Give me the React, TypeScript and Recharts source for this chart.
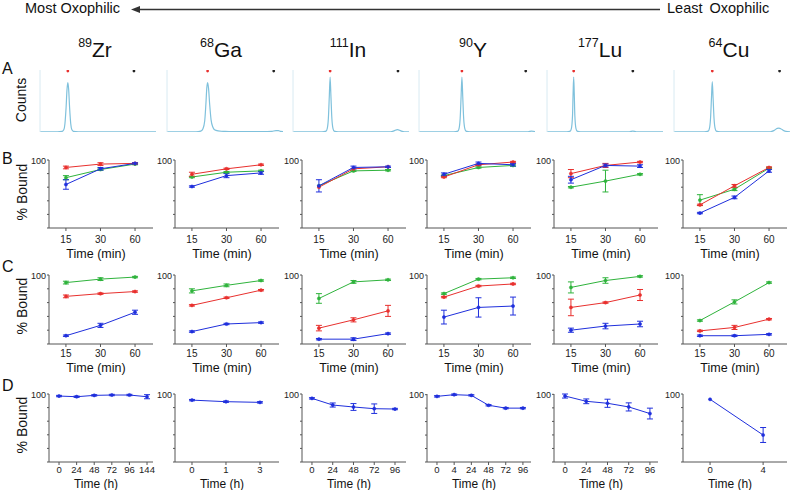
import React from 'react'
import { LineChart, Line, XAxis, YAxis, ErrorBar, ReferenceDot } from 'recharts'

const FONT = '"Liberation Sans", Arial, Helvetica, sans-serif'

const massNumbers = ['89', '68', '111', '90', '177', '64']
const elements = ['Zr', 'Ga', 'In', 'Y', 'Lu', 'Cu']

// Row A: radio-HPLC traces, [x (% of run), counts]
const traceZr = [[0, 0.5], [15, 0.5], [19, 1], [20.5, 4], [21.5, 15], [22.5, 45], [23.3, 78], [24, 90], [24.7, 78], [25.5, 45], [26.5, 15], [27.5, 4], [29, 1], [33, 0.5], [100, 0.5]]
const traceGa = [[0, 0.5], [25, 0.5], [29, 1.5], [31, 6], [32.5, 20], [33.5, 50], [34.3, 80], [35, 90], [35.8, 80], [36.8, 50], [38, 22], [39.5, 9], [41, 4], [44, 2], [50, 1], [70, 0.7], [90, 1], [94, 2.5], [96, 2.5], [98, 1], [100, 0.8]]
const traceIn = [[0, 0.5], [25, 0.5], [28.5, 1.5], [29.5, 6], [30.5, 25], [31.3, 65], [32, 100], [32.7, 65], [33.5, 25], [34.5, 6], [35.5, 1.5], [39, 0.5], [84, 0.5], [87, 2], [90, 4.5], [93, 2], [96, 0.5], [100, 0.5]]
const traceY = [[0, 0.5], [30, 0.5], [33.5, 1.5], [34.5, 6], [35.5, 25], [36.3, 65], [37, 100], [37.7, 65], [38.5, 25], [39.5, 6], [40.5, 1.5], [44, 0.5], [94, 0.5], [97, 1.5], [100, 0.8]]
const traceLu = [[0, 0.5], [17, 0.5], [20, 1.5], [21, 6], [22, 30], [22.5, 70], [23, 100], [23.5, 70], [24, 30], [25, 6], [26, 1.5], [29, 0.5], [71, 0.5], [74, 1.5], [77, 0.5], [100, 0.5]]
const traceCu = [[0, 0.5], [26, 0.5], [29.5, 1.5], [30.5, 6], [31.5, 25], [32.3, 62], [33, 92], [33.7, 62], [34.5, 25], [35.5, 6], [36.5, 1.5], [40, 0.5], [83, 0.5], [86, 2.5], [89, 6.5], [90.5, 7], [92, 6], [95, 2], [98, 0.7], [100, 0.5]]
const traces = [traceZr, traceGa, traceIn, traceY, traceLu, traceCu]
const freePeakX = [24, 35, 32, 37, 23, 33]
const boundPeakX = [81, 92, 90.5, 92, 74, 91]

// Row B: % bound at 15, 30, 60 min (per isotope)
const timeMin = ['15', '30', '60']
const bRed = [[89, 94, 95], [79, 87, 93], [60, 87, 90], [75, 93, 97], [80, 92, 97], [34, 62, 89]]
const bRedErr = [[2, 2, 1], [3, 1, 1], [0, 0, 0], [1, 1, 1], [6, 3, 1], [1, 2, 1]]
const bGreen = [[74, 86, 94], [75, 82, 84], [62, 84, 85], [77, 89, 92], [60, 69, 79], [41, 57, 88]]
const bGreenErr = [[3, 1, 1], [1, 1, 1], [0, 1, 1], [1, 1, 1], [1, 16, 1], [8, 2, 1]]
const bBlue = [[64, 87, 95], [61, 77, 81], [62, 89, 90], [79, 95, 93], [71, 92, 91], [22, 45, 84]]
const bBlueErr = [[7, 2, 1], [1, 3, 2], [9, 2, 1], [2, 2, 2], [5, 2, 2], [1, 2, 2]]

// Row C
const cGreen = [[89, 94, 97], [77, 85, 92], [66, 90, 93], [73, 94, 96], [82, 92, 98], [34, 61, 89]]
const cGreenErr = [[2, 2, 1], [3, 2, 1], [7, 2, 1], [1, 1, 1], [8, 4, 1], [1, 3, 1]]
const cRed = [[69, 73, 76], [56, 67, 78], [23, 35, 48], [68, 84, 87], [53, 60, 71], [19, 24, 36]]
const cRedErr = [[2, 1, 1], [1, 1, 1], [4, 3, 8], [1, 1, 1], [12, 1, 8], [1, 3, 1]]
const cBlue = [[12, 27, 46], [18, 29, 31], [7, 7, 15], [39, 53, 55], [20, 26, 29], [12, 12, 14]]
const cBlueErr = [[1, 3, 3], [1, 1, 1], [1, 2, 1], [10, 14, 13], [3, 4, 4], [1, 1, 1]]

// Row D: serum stability, time in h
const dTimes = [['0', '24', '48', '72', '96', '144'], ['0', '1', '3'], ['0', '24', '48', '72', '96'], ['0', '4', '24', '48', '72', '96'], ['0', '24', '48', '72', '96'], ['0', '4']]
const dBound = [[97, 96, 98, 98.5, 98.5, 96], [91, 88.7, 87.7], [93.6, 83.8, 80.9, 78.4, 77.9], [97.5, 100, 99, 84.3, 80, 80], [97.5, 89.7, 86.8, 81.4, 71.6], [92.2, 39.7]]
const dErr = [[1, 1, 1, 1, 1, 3], [1, 1, 1], [1, 3, 5, 7, 1], [1, 1, 1, 1, 1, 1], [3, 3.5, 6, 6, 8], [0, 11]]

const RED = '#e8302e'
const GREEN = '#2fb33c'
const BLUE = '#1f2fdc'
const AXIS = '#555'

const axisX = [49, 175, 302, 427, 554, 683]
const traceLeft = [39, 166, 292, 418, 546, 673]
const minDomain: [number, number] = [-0.49, 2.52]
const hourDomains: [number, number][] = [[-0.57, 5.34], [-0.5, 2.56], [-0.48, 4.53], [-0.58, 5.47], [-0.52, 4.38], [-0.51, 1.45]]

type Series = { key: string; color: string }

function TracePanel({ i }: { i: number }) {
  const data = traces[i].map(([x, y]) => ({ x, y }))
  return (
    <div style={{ position: 'absolute', left: traceLeft[i], top: 70 }}>
      <LineChart width={117} height={62} data={data} margin={{ top: 0, right: 0, left: 0, bottom: 0 }}>
        <XAxis dataKey="x" type="number" domain={[0, 100]} hide />
        <YAxis width={1} domain={[0, 113]} tick={false} tickLine={false} axisLine={{ stroke: '#d8eaf2' }} />
        <Line dataKey="y" type="monotone" stroke="#7fc1dc" strokeWidth={1.2} dot={false} isAnimationActive={false} />
        <ReferenceDot x={freePeakX[i]} y={111} r={1.4} fill={RED} stroke="none" />
        <ReferenceDot x={boundPeakX[i]} y={111} r={1.4} fill="#222" stroke="none" />
      </LineChart>
    </div>
  )
}

function BoundPanel({ left, top, plotH, data, series, labels, domain, title, tickGap, titleOffset, tickFont = 10, titleFont = 12.5 }: {
  left: number; top: number; plotH: number; data: any[]; series: Series[]; labels: string[]; domain: [number, number]
  title: string; tickGap: number; titleOffset: number; tickFont?: number; titleFont?: number
}) {
  const yW = 30
  const mTop = 4
  const xH = 36
  return (
    <div style={{ position: 'absolute', left: left - yW, top: top - mTop }}>
      <LineChart width={yW + 104 + 4} height={mTop + plotH + xH} data={data} margin={{ top: mTop, right: 4, left: 0, bottom: 0 }}>
        <XAxis
          dataKey="x" type="number" domain={domain} ticks={labels.map((_, k) => k)}
          tickFormatter={(k) => labels[k]} height={xH} tickSize={3} tickMargin={tickGap}
          axisLine={{ stroke: AXIS }} tickLine={{ stroke: AXIS }}
          tick={{ fontSize: tickFont, fill: '#222', fontFamily: FONT }}
          label={{ value: title, position: 'insideBottom', offset: titleOffset, dx: -5, fontSize: titleFont, fill: '#111', fontFamily: FONT }}
        />
        <YAxis
          width={yW} domain={[0, 100]} ticks={[0, 20, 40, 60, 80, 100]} tickSize={2} tickMargin={1}
          tickFormatter={(v) => (v === 100 ? '100' : '')} axisLine={{ stroke: AXIS }} tickLine={{ stroke: AXIS }}
          tick={{ fontSize: 9, fill: '#222', fontFamily: FONT }}
        />
        {series.map((s) => (
          <Line key={s.key} dataKey={s.key} stroke={s.color} strokeWidth={1} type="linear"
            dot={{ r: 1.6, fill: s.color, stroke: s.color, strokeWidth: 0.5 }} isAnimationActive={false}>
            <ErrorBar dataKey={s.key + 'Err'} width={3} stroke={s.color} strokeWidth={1} direction="y" />
          </Line>
        ))}
      </LineChart>
    </div>
  )
}

const threeSeries: Series[] = [
  { key: 'green', color: GREEN },
  { key: 'red', color: RED },
  { key: 'blue', color: BLUE },
]

function timeRows(green: number[][], greenErr: number[][], red: number[][], redErr: number[][], blue: number[][], blueErr: number[][], i: number) {
  return timeMin.map((_, k) => ({
    x: k,
    green: green[i][k], greenErr: greenErr[i][k],
    red: red[i][k], redErr: redErr[i][k],
    blue: blue[i][k], blueErr: blueErr[i][k],
  }))
}

const text = (s: React.CSSProperties): React.CSSProperties => ({ position: 'absolute', fontFamily: FONT, color: '#111', whiteSpace: 'nowrap', ...s })

function RotLabel({ x, y, children, size = 14 }: { x: number; y: number; children: React.ReactNode; size?: number }) {
  return (
    <div style={text({ left: x, top: y, fontSize: size, transform: 'translate(-50%, -50%) rotate(-90deg)' })}>{children}</div>
  )
}

export default function App() {
  return (
    <div style={{ position: 'absolute', left: 0, top: 0, width: 791, height: 490, background: '#fff', overflow: 'hidden' }}>
      <div style={text({ left: 25, top: 0, fontSize: 14.5 })}>Most Oxophilic</div>
      <svg style={{ position: 'absolute', left: 0, top: 0 }} width={791} height={30}>
        <line x1={138} y1={9.5} x2={660} y2={9.5} stroke="#333" strokeWidth={1.6} />
        <polygon points="131,9.5 140,6 140,13" fill="#333" />
      </svg>
      <div style={text({ left: 667, top: 0, fontSize: 14.5, wordSpacing: 3 })}>Least Oxophilic</div>

      {elements.map((el, i) => (
        <div key={el} style={text({ left: axisX[i] + 46, top: 38, fontSize: 21, transform: 'translateX(-50%)' })}>
          <sup style={{ fontSize: 12.5, verticalAlign: 'top', position: 'relative', top: -2 }}>{massNumbers[i]}</sup>{el}
        </div>
      ))}

      <div style={text({ left: 2, top: 60, fontSize: 16 })}>A</div>
      <div style={text({ left: 2, top: 150, fontSize: 16 })}>B</div>
      <div style={text({ left: 2, top: 258, fontSize: 16 })}>C</div>
      <div style={text({ left: 2, top: 377, fontSize: 16 })}>D</div>

      <RotLabel x={21} y={100}>Counts</RotLabel>
      <RotLabel x={22} y={192}>% Bound</RotLabel>
      <RotLabel x={22} y={306}>% Bound</RotLabel>
      <RotLabel x={22} y={425}>% Bound</RotLabel>

      {elements.map((el, i) => <TracePanel key={'a' + el} i={i} />)}

      {elements.map((el, i) => (
        <BoundPanel key={'b' + el} left={axisX[i]} top={160} plotH={68} series={threeSeries}
          data={timeRows(bGreen, bGreenErr, bRed, bRedErr, bBlue, bBlueErr, i)}
          labels={timeMin} domain={minDomain} title="Time (min)" tickGap={5} titleOffset={6.5} />
      ))}

      {elements.map((el, i) => (
        <BoundPanel key={'c' + el} left={axisX[i]} top={275} plotH={69} series={threeSeries}
          data={timeRows(cGreen, cGreenErr, cRed, cRedErr, cBlue, cBlueErr, i)}
          labels={timeMin} domain={minDomain} title="Time (min)" tickGap={3} titleOffset={8.5} />
      ))}

      {elements.map((el, i) => (
        <BoundPanel key={'d' + el} left={axisX[i]} top={394} plotH={68} series={[{ key: 'blue', color: BLUE }]}
          data={dTimes[i].map((_, k) => ({ x: k, blue: dBound[i][k], blueErr: dErr[i][k] }))}
          labels={dTimes[i]} domain={hourDomains[i]} title="Time (h)" tickGap={1.5} titleOffset={10}
          tickFont={9.5} titleFont={12} />
      ))}
    </div>
  )
}
